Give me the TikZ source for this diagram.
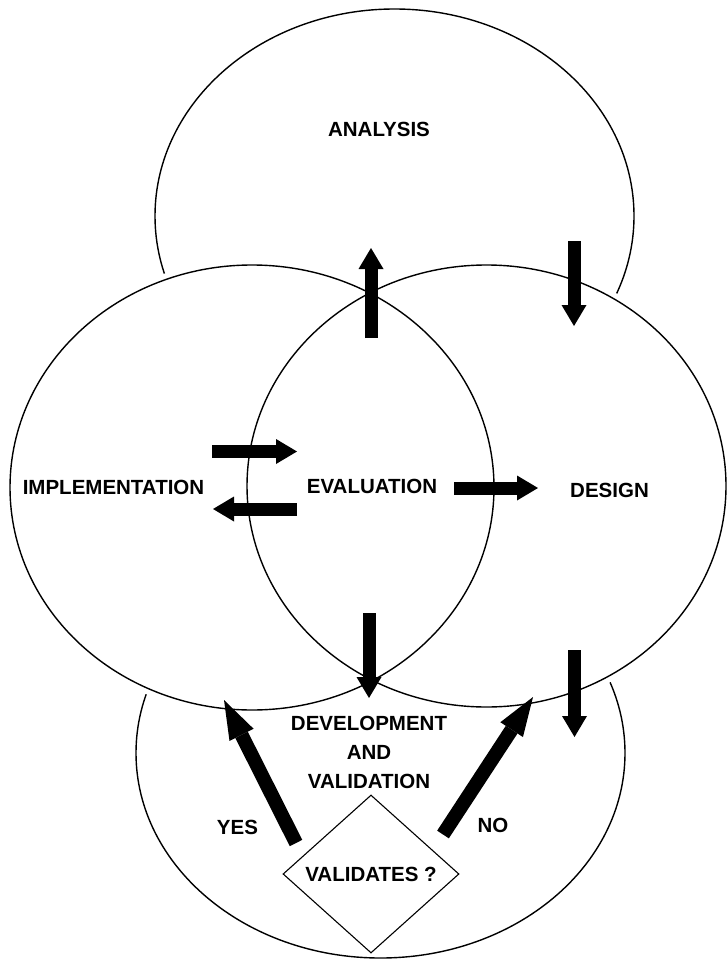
\documentclass[tikz,border=0pt]{standalone}
\usepackage{fontspec}
\setmainfont{Liberation Sans}
\usetikzlibrary{arrows.meta,shapes.geometric}

\begin{document}
\begin{tikzpicture}[x=1pt,y=-1pt,
  phase/.style={font=\bfseries\fontsize{20.5}{29}\selectfont, inner sep=0pt, align=center},
  ring/.style={line width=1.4pt},
  mask/.style={draw=white, line width=12pt, fill=white},
  blockarrow/.style={line width=13pt,
    -{Triangle[length=21pt,width=25pt,line width=0pt]}},
  slantarrow/.style={line width=14pt,
    -{Triangle[length=39pt,width=27pt,line width=0pt]}},
  decision/.style={diamond, draw, line width=1.1pt, inner sep=0pt,
    minimum width=176pt, minimum height=158pt,
    font=\bfseries\fontsize{20.5}{24}\selectfont}]
\useasboundingbox (0,0) rectangle (726,963);

% outer phases: analysis (top) and development (bottom)
\draw[ring] (394.5,216) ellipse [x radius=239.5, y radius=207];
\draw[ring] (380.5,753) ellipse [x radius=244.5, y radius=205];

% implementation and design rings hide the outer ones where they overlap
\path[mask] (252,487.5) ellipse [x radius=242, y radius=222.5];
\path[mask] (486.5,486) ellipse [x radius=239.5, y radius=221];
\draw[ring] (252,487.5) ellipse [x radius=242, y radius=222.5];
\draw[ring] (486.5,486) ellipse [x radius=239.5, y radius=221];

% phase labels
\node[phase] (analysis) at (379,129) {ANALYSIS};
\node[phase] (impl) at (113.5,487) {IMPLEMENTATION};
\node[phase] (eval) at (372,486) {EVALUATION};
\node[phase] (design) at (609.5,490) {DESIGN};
\node[phase] (dev) at (369,752) {DEVELOPMENT\\AND\\VALIDATION};
\node[phase] (yes) at (237.5,827) {YES};
\node[phase] (no) at (493,825) {NO};
\node[decision] (check) at (371,874) {VALIDATES ?};

% arrow end points
\coordinate (evalUpS) at (371,338);   \coordinate (evalUpE) at (371,248);
\coordinate (anaDnS) at (574,241);    \coordinate (anaDnE) at (574,326);
\coordinate (toEvalS) at (212,451.5); \coordinate (toEvalE) at (297,451.5);
\coordinate (toImplS) at (297,509);   \coordinate (toImplE) at (213,509);
\coordinate (toDesS) at (454,488);    \coordinate (toDesE) at (538,488);
\coordinate (evalDnS) at (369,613);   \coordinate (evalDnE) at (369,698);
\coordinate (desDnS) at (574.5,650);  \coordinate (desDnE) at (574.5,737);
\coordinate (yesS) at (296,843);      \coordinate (yesE) at (224,700);
\coordinate (noS) at (443,834.5);     \coordinate (noE) at (533,697);

% flow arrows
\draw[blockarrow] (evalUpS) -- (evalUpE);
\draw[blockarrow] (anaDnS) -- (anaDnE);
\draw[blockarrow] (toEvalS) -- (toEvalE);
\draw[blockarrow] (toImplS) -- (toImplE);
\draw[blockarrow] (toDesS) -- (toDesE);
\draw[blockarrow] (evalDnS) -- (evalDnE);
\draw[blockarrow] (desDnS) -- (desDnE);
\draw[slantarrow] (yesS) -- (yesE);
\draw[slantarrow] (noS) -- (noE);
\end{tikzpicture}
\end{document}
